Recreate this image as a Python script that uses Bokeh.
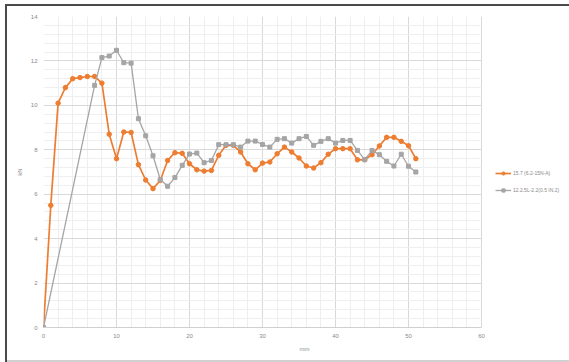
from bokeh.plotting import figure
from bokeh.models import Legend, LegendItem, FixedTicker
from bokeh.embed import file_html
from bokeh.resources import INLINE

# ---- data ----
orange_label = "15.7 (6.2-15N-A)"
gray_label = "12.2.5L-2.2(0.5 IN.2)"

orange_x = list(range(0, 52))
orange_y = [0, 5.5, 10.1, 10.8, 11.2, 11.25, 11.3, 11.3, 11.0, 8.7,
            7.6, 8.8, 8.78, 7.33, 6.64, 6.25, 6.62, 7.52, 7.87, 7.84,
            7.37, 7.1, 7.04, 7.07, 7.75, 8.2, 8.2, 7.9, 7.37, 7.1,
            7.4, 7.45, 7.82, 8.12, 7.9, 7.63, 7.27, 7.18, 7.42, 7.8,
            8.05, 8.05, 8.05, 7.55, 7.55, 7.78, 8.17, 8.56, 8.56, 8.38,
            8.18, 7.6]

gray_x = [0] + list(range(7, 52))
gray_y = [0, 10.9, 12.15, 12.22, 12.48, 11.92, 11.9, 9.4, 8.63, 7.73,
          6.66, 6.36, 6.75, 7.3, 7.81, 7.85, 7.42, 7.52, 8.23, 8.23,
          8.23, 8.12, 8.39, 8.39, 8.24, 8.12, 8.47, 8.5, 8.3, 8.5,
          8.6, 8.2, 8.38, 8.5, 8.3, 8.42, 8.42, 7.97, 7.56, 7.97,
          7.78, 7.48, 7.27, 7.8, 7.26, 7.0]

x_ticks = [0, 10, 20, 30, 40, 50, 60]
y_ticks = [0, 2, 4, 6, 8, 10, 12, 14]

ORANGE = "#ed7d31"
GRAY = "#a5a5a5"
FONT = "Liberation Sans"

# frame spans to the right edge; grid/axis bounded to 0..60 so the legend fits beside
p = figure(width=569, height=362, x_range=(0, 71.5), y_range=(0, 14),
           output_backend="svg", toolbar_location=None,
           min_border_left=43, min_border_top=16, min_border_bottom=35,
           min_border_right=4)

p.styles = {"box-shadow": "inset 5px 4px 0 0 #ffffff, inset 7px 6px 0 0 #4a4a4a, inset 0 -2px 0 0 #d0d0d0"}
p.border_fill_color = None
p.background_fill_color = "white"
p.outline_line_color = None

# axes
p.xaxis.ticker = FixedTicker(ticks=x_ticks, minor_ticks=list(range(0, 61, 2)))
p.yaxis.ticker = FixedTicker(ticks=y_ticks, minor_ticks=[round(i * 0.4, 2) for i in range(0, 36)])
p.xaxis.bounds = (0, 60)
for ax in (p.xaxis[0], p.yaxis[0]):
    ax.major_tick_line_color = None
    ax.minor_tick_line_color = None
    ax.major_tick_out = 0
    ax.minor_tick_out = 0
    ax.major_tick_in = 0
    ax.minor_tick_in = 0
    ax.major_label_text_font_size = "6px"
    ax.major_label_text_color = "#8a8a8a"
    ax.major_label_text_font = FONT
    ax.axis_label_text_font_size = "6px"
    ax.axis_label_text_color = "#8a8a8a"
    ax.axis_label_text_font = FONT
    ax.axis_label_text_font_style = "normal"
p.xaxis.axis_line_color = "#d0d0d0"
p.yaxis.axis_line_color = None
p.xaxis.axis_label = "mm"
p.yaxis.axis_label = "kN"
p.xaxis.major_label_standoff = 6
p.xaxis.axis_label_standoff = 5
p.yaxis.major_label_standoff = 6
p.yaxis.axis_label_standoff = 5

p.xgrid.grid_line_color = "#d9d9d9"
p.ygrid.grid_line_color = "#d9d9d9"
p.xgrid.minor_grid_line_color = "#efefef"
p.ygrid.minor_grid_line_color = "#efefef"
p.xgrid.bounds = (0, 60)
p.ygrid.cross_bounds = (0, 60)

# series
ol = p.line(orange_x, orange_y, line_color=ORANGE, line_width=1.7)
os_ = p.scatter(orange_x, orange_y, size=4.5, fill_color=ORANGE, line_color=ORANGE)
gl = p.line(gray_x, gray_y, line_color=GRAY, line_width=1.3)
gs = p.scatter(gray_x, gray_y, size=4, fill_color=GRAY, line_color=GRAY, marker="square")

legend = Legend(items=[LegendItem(label=orange_label, renderers=[ol, os_]),
                       LegendItem(label=gray_label, renderers=[gl, gs])],
                location=(452, 133), border_line_color=None,
                background_fill_color=None,
                label_text_font_size="5px", label_text_color="#8a8a8a",
                label_text_font=FONT, glyph_width=16, glyph_height=8,
                label_standoff=2, spacing=9, padding=2, margin=0,
                label_height=8)
p.add_layout(legend, "center")

open("out.html", "w").write(file_html(p, INLINE))
